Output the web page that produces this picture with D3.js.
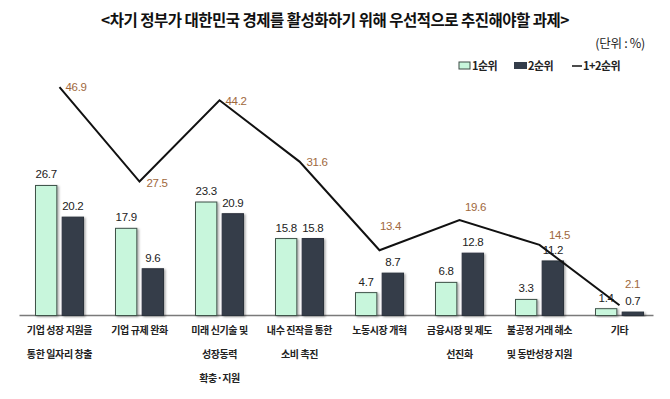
<!DOCTYPE html>
<html><head><meta charset="utf-8">
<script src="https://cdn.jsdelivr.net/npm/d3@7"></script>
<style>
body{margin:0;background:#fff;}
svg{display:block;}
</style></head>
<body><svg id="chart" width="670" height="399"></svg>
<script>
const categories = [
  ["기업 성장 지원을","통한 일자리 창출"],
  ["기업 규제 완화"],
  ["미래 신기술 및","성장동력","확충·지원"],
  ["내수 진작을 통한","소비 촉진"],
  ["노동시장 개혁"],
  ["금융시장 및 제도","선진화"],
  ["불공정 거래 해소","및 동반성장 지원"],
  ["기타"]
];
const rank1 = [26.7, 17.9, 23.3, 15.8, 4.7, 6.8, 3.3, 1.4];
const rank2 = [20.2, 9.6, 20.9, 15.8, 8.7, 12.8, 11.2, 0.7];
const rank12 = [46.9, 27.5, 44.2, 31.6, 13.4, 19.6, 14.5, 2.1];
const seriesNames = ["1순위", "2순위", "1+2순위"];
const title = "<차기 정부가 대한민국 경제를 활성화하기 위해 우선적으로 추진해야할 과제>";
const unitText = "(단위 : %)";

// label offsets for line values (presentation only)
const lineLabelOffsets = [[6,0],[7,1],[6,1],[7,0],[11,-24],[16,-13],[20,-10],[13,-21]];

const svg = d3.select("#chart");
const W = 670, H = 399;
const KR = "'Noto Sans CJK KR','Noto Sans',sans-serif";
const NUM = "'Liberation Sans',Arial,sans-serif";

const defs = svg.append("defs");
const f = defs.append("filter").attr("id","shadow").attr("x","-20%").attr("y","-20%").attr("width","150%").attr("height","150%");
f.append("feDropShadow").attr("dx",1.5).attr("dy",1).attr("stdDeviation",0.8).attr("flood-color","#000").attr("flood-opacity",0.35);

const keys = d3.range(categories.length);
const x0 = d3.scaleBand().domain(keys).range([19.5, 659.5]).padding(0);
const x1 = d3.scaleBand().domain([0,1]).range([16, 64]).paddingInner(0.2);
const y = d3.scaleLinear().domain([0, 50]).range([315.5, 72]);

// title
svg.append("text").attr("x", W/2).attr("y", 26).attr("text-anchor","middle")
  .attr("font-family", KR).attr("font-weight","bold").attr("font-size","15.5px")
  .attr("letter-spacing","-0.5px").attr("fill","#111").text(title);
svg.append("text").attr("x", 645).attr("y", 48).attr("text-anchor","end")
  .attr("font-family", KR).attr("font-size","12.5px").attr("letter-spacing","-0.3px").attr("fill","#222").text(unitText);

// legend
const lg = svg.append("g").attr("font-family", KR).attr("font-weight","bold").attr("font-size","11px").attr("fill","#222");
lg.append("rect").attr("x",459).attr("y",62).attr("width",11).attr("height",7).attr("fill","#c8f6dc").attr("stroke","#3c4a44").attr("stroke-width",1);
lg.append("text").attr("x",472).attr("y",70).attr("letter-spacing","-0.5px").text(seriesNames[0]);
lg.append("rect").attr("x",514).attr("y",62).attr("width",13).attr("height",7).attr("fill","#343d4a");
lg.append("text").attr("x",528).attr("y",70).attr("letter-spacing","-0.5px").text(seriesNames[1]);
lg.append("line").attr("x1",572).attr("x2",582).attr("y1",66).attr("y2",66).attr("stroke","#111").attr("stroke-width",1.5);
lg.append("text").attr("x",583).attr("y",70).attr("letter-spacing","-0.5px").text(seriesNames[2]);

// axis line
const ax = d3.axisBottom(x0).tickSize(0).tickFormat("");
const axG = svg.append("g").attr("transform",`translate(0,${y(0)})`).call(ax);
axG.select(".domain").attr("stroke","#7a7a7a").attr("stroke-width",1.5).attr("d",`M${x0.range()[0]},0H${x0.range()[1]-6}`);

// bars
const groups = svg.append("g").selectAll("g").data(keys).join("g")
  .attr("transform", i => `translate(${x0(i)},0)`);
const barData = i => [{s:0, v:rank1[i]}, {s:1, v:rank2[i]}];
groups.selectAll("rect").data(barData).join("rect")
  .attr("x", d => x1(d.s)).attr("width", x1.bandwidth())
  .attr("y", d => y(d.v)).attr("height", d => y(0) - y(d.v))
  .attr("fill", d => d.s === 0 ? "#c8f6dc" : "#343d4a")
  .attr("stroke", d => d.s === 0 ? "#3f534a" : "#2a313b")
  .attr("stroke-width", 1)
  .attr("filter","url(#shadow)");
groups.selectAll("text.bv").data(barData).join("text").attr("class","bv")
  .attr("x", d => x1(d.s) + x1.bandwidth()/2).attr("y", d => y(d.v) - 7)
  .attr("text-anchor","middle").attr("font-family", NUM).attr("font-size","11.5px")
  .attr("letter-spacing","-0.3px").attr("fill","#222")
  .text(d => d.v.toFixed(1));

// line
const cx = i => x0(i) + x0.bandwidth()/2;
const line = d3.line().x((d,i) => cx(i)).y(d => y(d));
svg.append("path").datum(rank12).attr("d", line).attr("fill","none")
  .attr("stroke","#111").attr("stroke-width",2).attr("stroke-linejoin","miter");
svg.append("g").selectAll("text").data(rank12).join("text")
  .attr("x", (d,i) => cx(i) + lineLabelOffsets[i][0])
  .attr("y", (d,i) => y(d) + lineLabelOffsets[i][1])
  .attr("dy","0.35em")
  .attr("text-anchor", (d,i) => i < 4 ? "start" : "middle")
  .attr("font-family", NUM).attr("font-size","11.5px").attr("letter-spacing","-0.3px")
  .attr("fill","#a0683c")
  .text(d => d.toFixed(1));

// category labels
const cl = svg.append("g").selectAll("text").data(keys).join("text")
  .attr("x", i => cx(i)).attr("y", 334)
  .attr("text-anchor","middle").attr("font-family", KR).attr("font-size","10px")
  .attr("font-weight","600").attr("letter-spacing","-0.4px").attr("fill","#222");
cl.selectAll("tspan").data(i => categories[i]).join("tspan")
  .attr("x", function(){ return d3.select(this.parentNode).attr("x"); })
  .attr("dy", (d,j) => j === 0 ? 0 : 24)
  .text(d => d);
</script></body></html>
